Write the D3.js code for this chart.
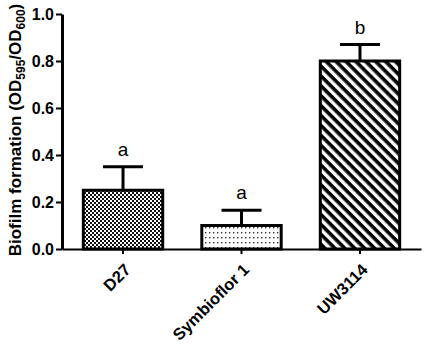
<!DOCTYPE html>
<html>
<head>
<meta charset="utf-8">
<script src="https://cdn.jsdelivr.net/npm/d3@7"></script>
<style>
  body { margin: 0; background: #fff; }
  text { font-family: "Liberation Sans", Arial, sans-serif; }
</style>
</head>
<body>
<div id="container"></div>
<script>
// data
let strains = ["D27", "Symbioflor 1", "UW3114"];
let means = [0.25, 0.10, 0.80];
let errors = [0.10, 0.065, 0.07];
let letters = ["a", "a", "b"];
let fills = ["url(#checker)", "url(#dots)", "url(#stripes)"];
let yTicks = [0, 0.2, 0.4, 0.6, 0.8, 1.0];

let w = 425;
let h = 347;

let viz = d3.select("#container")
  .append("svg")
    .attr("width", w)
    .attr("height", h)
;

// fill patterns
let defs = viz.append("defs");

let checker = defs.append("pattern")
    .attr("id", "checker")
    .attr("patternUnits", "userSpaceOnUse")
    .attr("width", 4)
    .attr("height", 4);
checker.append("rect").attr("width", 4).attr("height", 4).attr("fill", "#fff");
checker.append("rect").attr("width", 2).attr("height", 2).attr("fill", "#111");
checker.append("rect").attr("x", 2).attr("y", 2).attr("width", 2).attr("height", 2).attr("fill", "#111");

let dots = defs.append("pattern")
    .attr("id", "dots")
    .attr("patternUnits", "userSpaceOnUse")
    .attr("width", 4)
    .attr("height", 5);
dots.append("rect").attr("width", 4).attr("height", 5).attr("fill", "#fff");
dots.append("rect").attr("x", 1).attr("y", 2).attr("width", 1.4).attr("height", 1.4).attr("fill", "#333");

let stripes = defs.append("pattern")
    .attr("id", "stripes")
    .attr("patternUnits", "userSpaceOnUse")
    .attr("width", 7)
    .attr("height", 7)
    .attr("patternTransform", "rotate(45)");
stripes.append("rect").attr("width", 7).attr("height", 7).attr("fill", "#fff");
stripes.append("rect").attr("width", 7).attr("height", 3.6).attr("fill", "#000");

let xScale = d3.scaleBand()
    .domain(strains)
    .range([62, 421])
    .paddingInner(0.33)
    .paddingOuter(0.18);

let yScale = d3.scaleLinear()
    .domain([0, 1])
    .range([249, 14]);

// bars
viz.selectAll(".bar")
  .data(strains)
  .enter()
  .append("rect")
    .attr("class", "bar")
    .attr("x", function(d){ return xScale(d); })
    .attr("y", function(d, i){ return yScale(means[i]); })
    .attr("width", xScale.bandwidth())
    .attr("height", function(d, i){ return yScale(0) - yScale(means[i]); })
    .attr("fill", function(d, i){ return fills[i]; })
    .attr("stroke", "#000")
    .attr("stroke-width", 3)
;

// error bars (upper only)
let errGroup = viz.selectAll(".err")
  .data(strains)
  .enter()
  .append("g")
    .attr("class", "err");

errGroup.append("line")
    .attr("x1", function(d){ return xScale(d) + xScale.bandwidth()/2; })
    .attr("x2", function(d){ return xScale(d) + xScale.bandwidth()/2; })
    .attr("y1", function(d, i){ return yScale(means[i]); })
    .attr("y2", function(d, i){ return yScale(means[i] + errors[i]); })
    .attr("stroke", "#000")
    .attr("stroke-width", 3);

errGroup.append("line")
    .attr("x1", function(d){ return xScale(d) + xScale.bandwidth()/2 - 20; })
    .attr("x2", function(d){ return xScale(d) + xScale.bandwidth()/2 + 20; })
    .attr("y1", function(d, i){ return yScale(means[i] + errors[i]); })
    .attr("y2", function(d, i){ return yScale(means[i] + errors[i]); })
    .attr("stroke", "#000")
    .attr("stroke-width", 3);

// significance letters
viz.selectAll(".letter")
  .data(strains)
  .enter()
  .append("text")
    .attr("class", "letter")
    .attr("x", function(d){ return xScale(d) + xScale.bandwidth()/2; })
    .attr("y", function(d, i){ return yScale(means[i] + errors[i]) - 11; })
    .attr("text-anchor", "middle")
    .style("font-size", "19px")
    .text(function(d, i){ return letters[i]; })
;

// axes
let xAxis = d3.axisBottom(xScale).tickSize(5).tickSizeOuter(0);
let xAxisGroup = viz.append("g")
    .attr("class", "xaxisgroup")
    .attr("transform", "translate(0," + yScale(0) + ")");
xAxisGroup.call(xAxis);
xAxisGroup.select(".domain").attr("stroke-width", 2);
xAxisGroup.selectAll(".tick line").attr("stroke-width", 2);
xAxisGroup.selectAll(".tick text")
    .attr("font-family", null)
    .style("font-size", "16.5px")
    .style("font-weight", "bold")
    .attr("text-anchor", "end")
    .attr("dy", "0.35em")
    .attr("transform", "translate(-1,12) rotate(-45)");

let yAxis = d3.axisLeft(yScale)
    .tickValues(yTicks)
    .tickFormat(d3.format(".1f"))
    .tickSize(6)
    .tickSizeOuter(0);
let yAxisGroup = viz.append("g")
    .attr("class", "yaxisgroup")
    .attr("transform", "translate(62,0)");
yAxisGroup.call(yAxis);
yAxisGroup.select(".domain").attr("stroke-width", 3);
yAxisGroup.selectAll(".tick line").attr("stroke-width", 2);
yAxisGroup.selectAll(".tick text")
    .attr("font-family", null)
    .style("font-size", "16px")
    .style("font-weight", "bold")
    .attr("x", -8);

// y axis title with subscripts
let yTitle = viz.append("text")
    .attr("transform", "translate(21,130) rotate(-90)")
    .attr("text-anchor", "middle")
    .style("font-size", "17px")
    .style("font-weight", "bold");
yTitle.append("tspan").text("Biofilm formation (OD");
yTitle.append("tspan").attr("dy", 4).style("font-size", "12px").text("595");
yTitle.append("tspan").attr("dy", -4).text("/OD");
yTitle.append("tspan").attr("dy", 4).style("font-size", "12px").text("600");
yTitle.append("tspan").attr("dy", -4).text(")");
</script>
</body>
</html>
